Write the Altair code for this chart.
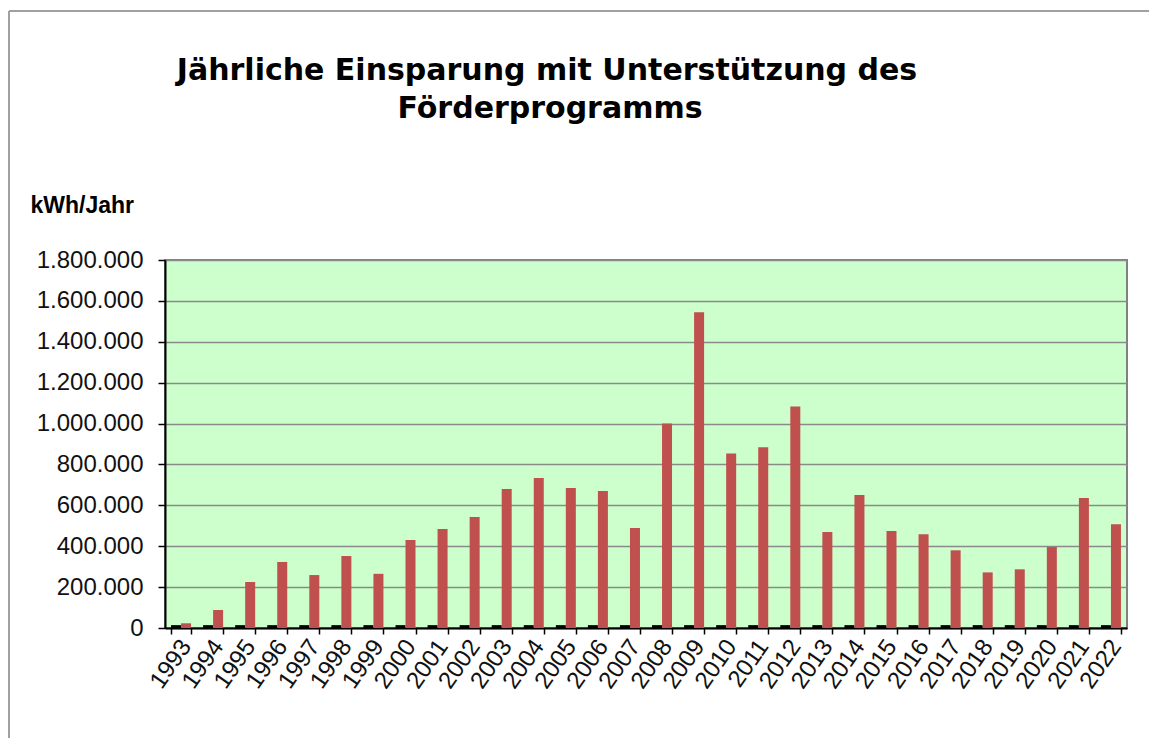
import altair as alt
import pandas as pd

years = [str(y) for y in range(1993, 2023)]
savings = [23000, 88000, 225000, 323000, 259000, 352000, 265000, 430000, 484000, 543000,
           680000, 734000, 685000, 670000, 489000, 1000000, 1544000, 854000, 884000, 1084000,
           470000, 650000, 475000, 458000, 380000, 272000, 287000, 396000, 636000, 508000]
small = [14000, 14000, 14000, 14000, 14000, 14000, 14000, 14000, 14000, 14000,
         14000, 14000, 14000, 14000, 14000, 14000, 14000, 14000, 14000, 14000,
         14000, 14000, 14000, 14000, 14000, 14000, 14000, 14000, 14000, 14000]
series = ["Reihe 1", "Reihe 2"]
y_ticks = [0, 200000, 400000, 600000, 800000, 1000000, 1200000, 1400000, 1600000, 1800000]
title_lines = ["Jährliche Einsparung mit Unterstützung des", "Förderprogramms"]

rows = []
for i, yr in enumerate(years):
    rows.append({"Jahr": yr, "Reihe": series[0], "Wert": small[i]})
    rows.append({"Jahr": yr, "Reihe": series[1], "Wert": savings[i]})
df = pd.DataFrame(rows)

bars = alt.Chart(df).mark_bar().encode(
    x=alt.X("Jahr:N", sort=years,
            scale=alt.Scale(paddingInner=0.376, paddingOuter=0.188),
            axis=alt.Axis(title=None, labelAngle=305, labelAlign="right", labelBaseline="middle",
                          labelFont="Liberation Sans", labelFontSize=24, labelColor="#111111",
                          labelPadding=8, labelOffset=5,
                          domainColor="black", domainWidth=2, tickColor="black", tickWidth=1.5,
                          tickSize=6, tickBand="extent", grid=False)),
    xOffset=alt.XOffset("Reihe:N", sort=series, scale=alt.Scale(paddingInner=0, paddingOuter=0)),
    y=alt.Y("Wert:Q", scale=alt.Scale(domain=[0, 1800000], nice=False),
            axis=alt.Axis(values=y_ticks,
                          labelExpr="replace(format(datum.value, ','), regexp(',', 'g'), '.')",
                          labelFont="Liberation Sans", labelFontSize=24, labelColor="#111111",
                          labelPadding=15, domainColor="black", domainWidth=2,
                          tickColor="black", tickWidth=1.5, tickSize=7,
                          gridColor="#8a8a8a", gridWidth=1.5,
                          title="kWh/Jahr", titleAngle=0, titleAlign="left",
                          titleBaseline="alphabetic", titleX=-135, titleY=-48,
                          titleFont="Liberation Sans", titleFontSize=23, titleFontWeight="bold",
                          titleColor="black")),
    color=alt.Color("Reihe:N", scale=alt.Scale(domain=series, range=["#000000", "#C0504D"]),
                    legend=None),
)

one = pd.DataFrame({"k": [0]})
title1 = alt.Chart(one).mark_text(text=title_lines[0], font="DejaVu Sans", fontSize=30,
                                  fontWeight="bold", color="black", align="center",
                                  baseline="alphabetic").encode(
    x=alt.value(382), y=alt.value(-180))
title2 = alt.Chart(one).mark_text(text=title_lines[1], font="DejaVu Sans", fontSize=30,
                                  fontWeight="bold", color="black", align="center",
                                  baseline="alphabetic").encode(
    x=alt.value(385), y=alt.value(-142))
top_line = alt.Chart(one).mark_rule(color="#A0A0A0", strokeWidth=2).encode(
    x=alt.value(-156), x2=alt.value(990), y=alt.value(-249))
left_line = alt.Chart(one).mark_rule(color="#A0A0A0", strokeWidth=2).encode(
    x=alt.value(-156), y=alt.value(-249), y2=alt.value(480))

chart = alt.layer(bars, title1, title2, top_line, left_line).properties(
    width=962, height=368,
    autosize=alt.AutoSizeParams(type="none"),
    padding={"left": 157, "top": 252, "right": 22, "bottom": 110},
    background="white",
).configure_view(fill="#CCFFCC", stroke="#808080", strokeWidth=2)

chart.save("out.html", embed_options={"renderer": "svg", "actions": False})
